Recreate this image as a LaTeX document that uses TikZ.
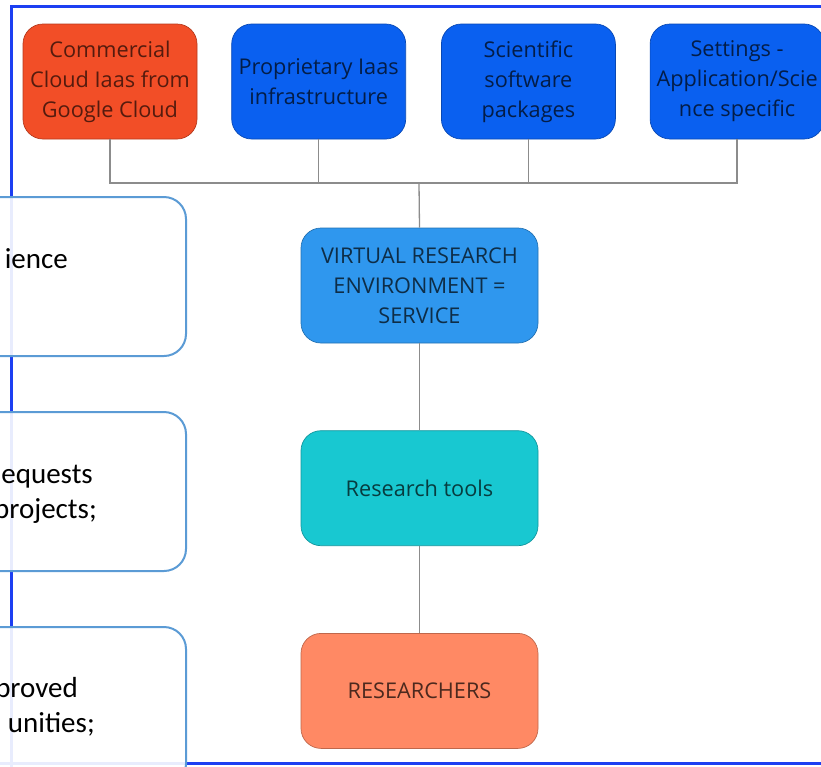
\documentclass[tikz,border=0pt]{standalone}
\usepackage{fontspec}
\setmainfont{Open Sans}
\newfontfamily\sidefont{Carlito}
\usetikzlibrary{positioning}
\definecolor{frameblue}{HTML}{1C3FF2}
\definecolor{cloudred}{HTML}{F24E27}
\definecolor{iaasblue}{HTML}{0A60F0}
\definecolor{vreblue}{HTML}{2F97EE}
\definecolor{toolcyan}{HTML}{18C8D1}
\definecolor{usersalmon}{HTML}{FF8964}
\definecolor{sideline}{HTML}{5B9BD5}
\definecolor{linkgrey}{HTML}{8C8C8C}
\tikzset{
  topbox/.style={
    rectangle, rounded corners=20pt, line width=0.7pt,
    minimum width=174pt, minimum height=115pt, inner sep=2pt,
    align=center, font=\fontsize{21.7}{30}\selectfont
  },
  midbox/.style={
    rectangle, rounded corners=20pt, line width=0.7pt,
    minimum width=237pt, minimum height=115pt,
    align=center, font=\fontsize{21.7}{30}\selectfont
  },
  sidebox/.style={
    rectangle, rounded corners=22pt, draw=sideline, line width=2pt,
    fill=white, fill opacity=0.9, minimum width=300pt, minimum height=159pt
  },
  sidetext/.style={anchor=base east, inner sep=0pt, font=\sidefont\fontsize{29}{34}\selectfont},
  link/.style={draw=linkgrey, line width=1.3pt},
  frame/.style={draw=frameblue, line width=3.5pt},
}
\begin{document}
\begin{tikzpicture}[x=1pt, y=-1pt, node distance=34pt]
  \useasboundingbox (0,0) rectangle (821,766);
  \clip (0,0) rectangle (821,766);
  % outer frame
  \draw[frame] (11.5,800) -- (11.5,6.5) -- (840,6.5);
  \draw[frame] (-10,763.5) -- (840,763.5);
  % top row
  \node[topbox, fill=cloudred, draw=cloudred!75!black, text=cloudred!35!black] (comm) at (110,81.5) {Commercial\\Cloud Iaas from\\Google Cloud};
  \node[topbox, fill=iaasblue, draw=iaasblue!75!black, text=iaasblue!30!black, right=of comm] (prop) {Proprietary Iaas\\infrastructure};
  \node[topbox, fill=iaasblue, draw=iaasblue!75!black, text=iaasblue!30!black, right=35pt of prop] (sci) {Scientific\\software\\packages};
  \node[topbox, fill=iaasblue, draw=iaasblue!75!black, text=iaasblue!30!black, right=of sci] (sett) {Settings -\\Application/Scie\\nce specific};
  % middle column
  \node[midbox, fill=vreblue, draw=vreblue!75!black, text=vreblue!30!black] (vre) at (419.5,285.5) {VIRTUAL RESEARCH\\ENVIRONMENT =\\SERVICE};
  \node[midbox, fill=toolcyan, draw=toolcyan!75!black, text=toolcyan!30!black, below=87pt of vre] (tools) {Research tools};
  \node[midbox, fill=usersalmon, draw=usersalmon!75!black, text=usersalmon!30!black, below=87pt of tools] (users) {RESEARCHERS};
  % connectors
  \coordinate (hub) at (419,183);
  \foreach \n in {comm,prop,sci,sett}
    \draw[link] (\n.south) |- (hub);
  \draw[link] (hub) -- (vre.north);
  \draw[link] (vre) -- (tools);
  \draw[link] (tools) -- (users);
  % left boxes, cut off by the page
  \node[sidebox] (side1) at (36,276.5) {};
  \node[sidebox] (side2) at (36,491.5) {};
  \node[sidebox] (side3) at (36,706.5) {};
  \node[sidetext] (side1a) at (68,268) {ience};
  \node[sidetext] (side2a) at (93,483) {equests};
  \node[sidetext] (side2b) at (97,518) {projects;};
  \node[sidetext] (side3a) at (78,697) {proved};
  \node[sidetext] (side3b) at (95,732) {unities;};
\end{tikzpicture}
\end{document}
